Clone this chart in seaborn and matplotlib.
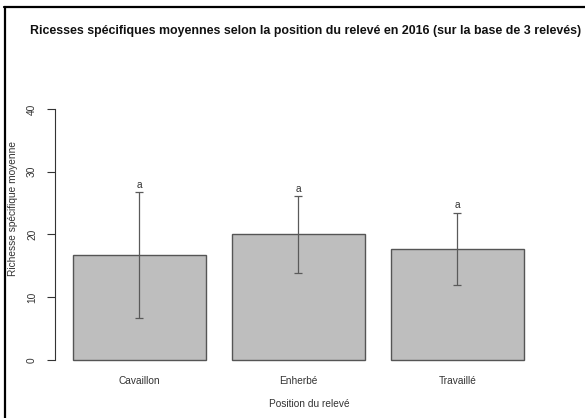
import matplotlib
matplotlib.use("Agg")
import matplotlib.pyplot as plt
from matplotlib.lines import Line2D
import seaborn as sns
import pandas as pd

# Mean species richness per plot position (2016, 3 surveys) and standard deviations
positions = ["Cavaillon", "Enherbé", "Travaillé"]
means = [16.7, 20.0, 17.7]
sds = [10.0, 6.1, 5.8]
groups = ["a", "a", "a"]
yticks = [0, 10, 20, 30, 40]

df = pd.DataFrame({"position": positions, "richesse": means})

sns.set_theme(style="white")
plt.rcParams["font.family"] = ["Liberation Sans", "DejaVu Sans"]

W, H = 585, 418
fig = plt.figure(figsize=(W / 100, H / 100), dpi=100)
fig.patch.set_facecolor("white")

# axes placed in pixel terms
left_px, right_px = 55.0, 541.8
top_px, bottom_px = 46.25, 370.0
ax = fig.add_axes([left_px / W, 1 - bottom_px / H,
                   (right_px - left_px) / W, (bottom_px - top_px) / H])

sns.barplot(data=df, x="position", y="richesse", ax=ax, color="#BEBEBE",
            saturation=1, width=1 / 1.2, edgecolor="#555555", linewidth=1.0,
            errorbar=None)

xs = list(range(len(positions)))
ax.errorbar(xs, means, yerr=sds, fmt="none", ecolor="#5a5a5a",
            elinewidth=0.9, capsize=3, capthick=0.9)
for x, m, s, g in zip(xs, means, sds, groups):
    ax.text(x, m + s + 1.2, g, ha="center", va="center", fontsize=7.3,
            color="#333333")

ax.set_xlim(-0.5296, 2.53)
ax.set_ylim(-1.6, 50)
ax.set_yticks(yticks)
ax.set_yticklabels([str(t) for t in yticks], rotation=90, va="center",
                   fontsize=7.3, color="#333333")
ax.tick_params(axis="y", which="both", left=True, length=6, width=0.8,
               color="#333333", pad=7)
ax.tick_params(axis="x", length=0, pad=4, labelsize=7.3, labelcolor="#333333")

for side in ["top", "right", "bottom"]:
    ax.spines[side].set_visible(False)
ax.spines["left"].set_bounds(0, 40)
ax.spines["left"].set_color("#333333")
ax.spines["left"].set_linewidth(0.8)

ax.set_xlabel("")
ax.set_ylabel("")
ax.set_facecolor("white")

fig.text(309 / W, 1 - 404 / H, "Position du relevé", ha="center",
         va="center", fontsize=7.3, color="#333333")
fig.text(13 / W, 1 - 208 / H, "Richesse spécifique moyenne", ha="center",
         va="center", rotation=90, fontsize=7.3, color="#333333")
fig.text(306 / W, 1 - 31 / H,
         "Ricesses spécifiques moyennes selon la position du relevé en 2016 "
         "(sur la base de 3 relevés)",
         ha="center", va="center", fontsize=8.9, fontweight="bold",
         color="#111111")

# frame lines along the top and left edges
fig.add_artist(Line2D([4 / W, 1], [1 - 7 / H, 1 - 7 / H],
                      transform=fig.transFigure, color="black", lw=1.6))
fig.add_artist(Line2D([4.5 / W, 4.5 / W], [0, 1 - 7 / H],
                      transform=fig.transFigure, color="black", lw=1.6))

fig.savefig("out.png", dpi=100)
